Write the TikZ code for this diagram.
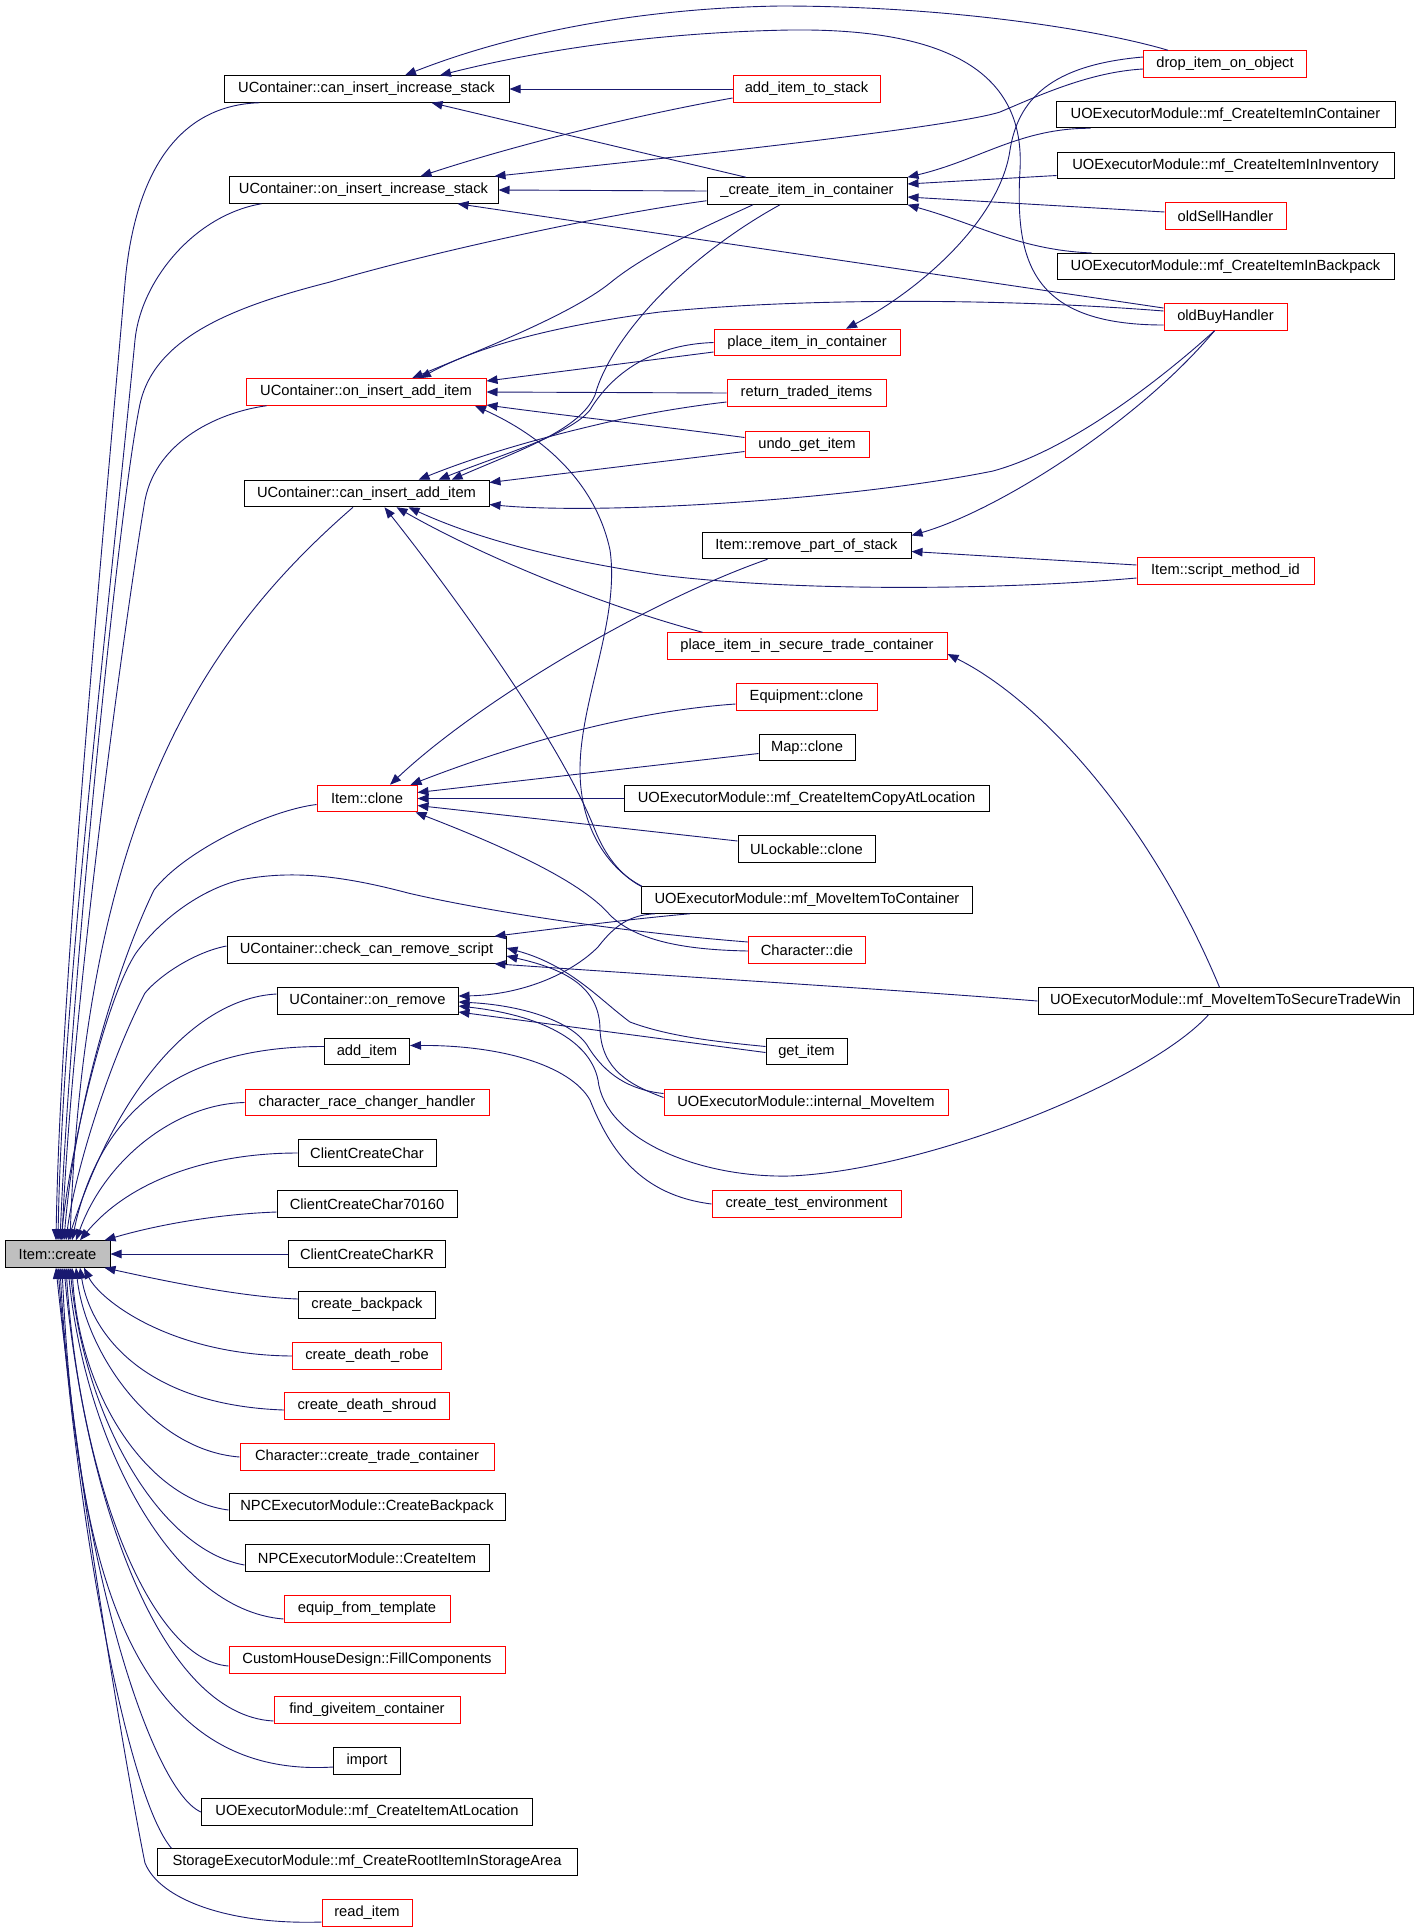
\documentclass[tikz,border=0pt]{standalone}
\usepackage{fontspec}
\setmainfont{Liberation Sans}
\usetikzlibrary{arrows.meta}
\definecolor{navy}{RGB}{25,25,112}
\definecolor{boxgray}{RGB}{191,191,191}
\newcommand\nfont{\fontsize{14.7pt}{17pt}\selectfont}
\begin{document}
\begin{tikzpicture}[x=1pt,y=-1pt,
  nd/.style={draw=black,line width=1pt,fill=white,rectangle,minimum height=26.5pt,inner sep=0pt,font=\nfont},
  rd/.style={nd,draw=red},
  e/.style={draw=navy,line width=0.9pt,{Triangle[length=11pt,width=8.5pt]}-}]
\useasboundingbox[fill=white] (0,0) rectangle (1419,1931);
% column 1
\node[nd,fill=boxgray,minimum width=105pt] (ic) at (57.5,1254) {Item::create};
% column 2
\node[nd,minimum width=285pt] (cis) at (366.5,89) {UContainer::can\_insert\_increase\_stack};
\node[nd,minimum width=269pt] (oiis) at (363.5,190) {UContainer::on\_insert\_increase\_stack};
\node[rd,minimum width=240pt] (oiai) at (366,392) {UContainer::on\_insert\_add\_item};
\node[nd,minimum width=245pt] (ciai) at (366.5,493.5) {UContainer::can\_insert\_add\_item};
\node[rd,minimum width=100pt] (clone) at (367,798.5) {Item::clone};
\node[nd,minimum width=279pt] (ccrs) at (366.5,950) {UContainer::check\_can\_remove\_script};
\node[nd,minimum width=181pt] (orem) at (367.5,1001) {UContainer::on\_remove};
\node[nd,minimum width=85pt] (additem) at (367,1051.5) {add\_item};
\node[rd,minimum width=244pt] (crch) at (367,1102.5) {character\_race\_changer\_handler};
\node[nd,minimum width=138pt] (ccc) at (367,1153) {ClientCreateChar};
\node[nd,minimum width=180pt] (cc7) at (367,1204) {ClientCreateChar70160};
\node[nd,minimum width=157pt] (cckr) at (367,1254) {ClientCreateCharKR};
\node[nd,minimum width=137pt] (cbp) at (367,1305) {create\_backpack};
\node[rd,minimum width=149pt] (cdr) at (367,1356) {create\_death\_robe};
\node[rd,minimum width=165pt] (cds) at (367,1406) {create\_death\_shroud};
\node[rd,minimum width=254pt] (ctc) at (367,1457) {Character::create\_trade\_container};
\node[nd,minimum width=276pt] (npcbp) at (367,1507) {NPCExecutorModule::CreateBackpack};
\node[nd,minimum width=244pt] (npcci) at (367,1558) {NPCExecutorModule::CreateItem};
\node[rd,minimum width=166pt] (eft) at (367,1609) {equip\_from\_template};
\node[rd,minimum width=276pt] (fillc) at (367,1660) {CustomHouseDesign::FillComponents};
\node[rd,minimum width=186pt] (fgc) at (367,1710) {find\_giveitem\_container};
\node[nd,minimum width=67pt] (imp) at (367,1761) {import};
\node[nd,minimum width=331pt] (ciaL) at (367,1812) {UOExecutorModule::mf\_CreateItemAtLocation};
\node[nd,minimum width=420pt] (stor) at (367,1862) {StorageExecutorModule::mf\_CreateRootItemInStorageArea};
\node[rd,minimum width=90pt] (ri) at (367,1913) {read\_item};
% column 3
\node[rd,minimum width=147pt] (aits) at (806.5,89) {add\_item\_to\_stack};
\node[nd,minimum width=200pt] (cic) at (807,191) {\_create\_item\_in\_container};
\node[rd,minimum width=186pt] (pic) at (807,342.5) {place\_item\_in\_container};
\node[rd,minimum width=159pt] (rti) at (806.5,393) {return\_traded\_items};
\node[rd,minimum width=124pt] (ugi) at (807,444.5) {undo\_get\_item};
\node[nd,minimum width=209pt] (rps) at (806.5,545.5) {Item::remove\_part\_of\_stack};
\node[rd,minimum width=280pt] (pis) at (807,646) {place\_item\_in\_secure\_trade\_container};
\node[rd,minimum width=141pt] (eqc) at (806.5,697) {Equipment::clone};
\node[nd,minimum width=96pt] (mapc) at (807,747.5) {Map::clone};
\node[nd,minimum width=365pt] (copyl) at (806.5,798.5) {UOExecutorModule::mf\_CreateItemCopyAtLocation};
\node[nd,minimum width=137pt] (ulc) at (806.5,849) {ULockable::clone};
\node[nd,minimum width=331pt] (mitc) at (807,900) {UOExecutorModule::mf\_MoveItemToContainer};
\node[rd,minimum width=117pt] (die) at (807,950) {Character::die};
\node[nd,minimum width=81pt] (getit) at (806.5,1051.5) {get\_item};
\node[rd,minimum width=284pt] (imi) at (806,1102.5) {UOExecutorModule::internal\_MoveItem};
\node[rd,minimum width=189pt] (cte) at (806.5,1204) {create\_test\_environment};
% column 4
\node[rd,minimum width=163pt] (dio) at (1225,64) {drop\_item\_on\_object};
\node[nd,minimum width=339pt] (cii1) at (1225.5,114.5) {UOExecutorModule::mf\_CreateItemInContainer};
\node[nd,minimum width=337pt] (cii2) at (1225.5,165.5) {UOExecutorModule::mf\_CreateItemInInventory};
\node[rd,minimum width=121pt] (osh) at (1225.5,216) {oldSellHandler};
\node[nd,minimum width=337pt] (cii3) at (1225.5,266.7) {UOExecutorModule::mf\_CreateItemInBackpack};
\node[rd,minimum width=123pt] (obh) at (1225.5,317) {oldBuyHandler};
\node[rd,minimum width=177pt] (smi) at (1225.5,571) {Item::script\_method\_id};
\node[nd,minimum width=375pt] (mst) at (1225.5,1001) {UOExecutorModule::mf\_MoveItemToSecureTradeWin};

% ---- fan into Item::create (top)
\draw[e] ([xshift=-1.5pt]ic.north) .. controls (60,1000) and (99,583) .. (125,283) .. controls (135,170) and (180,105) .. ([xshift=36pt]cis.south west);
\draw[e] ([xshift=0.5pt]ic.north) .. controls (62,1000) and (108,620) .. (135,340) .. controls (141,280) and (195,215) .. ([xshift=33pt]oiis.south west);
\draw[e] ([xshift=2.5pt]ic.north) .. controls (70,1000) and (118,510) .. (140,404) .. controls (155,335) and (240,305) .. (330,282) .. controls (420,255) and (600,215) .. ([yshift=4pt]cic.south west);
\draw[e] ([xshift=4.5pt]ic.north) .. controls (72,1000) and (128,600) .. (145,500) .. controls (157,440) and (220,412) .. ([xshift=21pt]oiai.south west);
\draw[e] ([xshift=12.5pt]ic.north) .. controls (85,820) and (200,640) .. ([xshift=-13.5pt]ciai.south);
\draw[e] ([xshift=6.5pt]ic.north) .. controls (75,1100) and (120,960) .. (154,890) .. controls (185,850) and (270,810) .. ([yshift=-6pt]clone.west);
\draw[e] ([xshift=3.5pt]ic.north) .. controls (70,1150) and (105,1000) .. (136,953) .. controls (160,920) and (200,890) .. (240,880) .. controls (290,870) and (340,875) .. (408,893) .. controls (480,910) and (620,932) .. ([yshift=8pt]die.west);
\draw[e] ([xshift=8.5pt]ic.north) .. controls (75,1170) and (110,1060) .. (145,993) .. controls (160,975) and (195,952) .. ([yshift=4pt]ccrs.west);
\draw[e] ([xshift=10.5pt]ic.north) .. controls (120,1080) and (200,998) .. ([yshift=7pt]orem.west);
\draw[e] ([xshift=14.5pt]ic.north) .. controls (95,1130) and (160,1046) .. ([yshift=5pt]additem.west);
\draw[e] ([xshift=18.5pt]ic.north) .. controls (105,1160) and (175,1104) .. (crch.west);
\draw[e] ([xshift=22.5pt]ic.north) .. controls (130,1180) and (210,1153) .. (ccc.west);
\draw[e] ([xshift=-6pt]ic.north east) .. controls (160,1224) and (220,1214) .. ([yshift=-8pt]cc7.west);
\draw[e] (ic.east) -- (cckr.west);
% ---- fan into Item::create (bottom)
\draw[e] ([xshift=-6pt]ic.south east) .. controls (160,1280) and (240,1297) .. ([yshift=6pt]cbp.west);
\draw[e] ([xshift=26.5pt]ic.south) .. controls (100,1300) and (170,1355) .. (cdr.west);
\draw[e] ([xshift=22.5pt]ic.south) .. controls (90,1330) and (140,1405) .. ([yshift=-4pt]cds.west);
\draw[e] ([xshift=18.5pt]ic.south) .. controls (85,1350) and (150,1450) .. (ctc.west);
\draw[e] ([xshift=14.5pt]ic.south) .. controls (80,1400) and (150,1500) .. ([yshift=-3pt]npcbp.west);
\draw[e] ([xshift=12.5pt]ic.south) .. controls (85,1420) and (160,1550) .. ([yshift=-7pt]npcci.west);
\draw[e] ([xshift=10.5pt]ic.south) .. controls (85,1440) and (170,1610) .. ([yshift=-10pt]eft.west);
\draw[e] ([xshift=8.5pt]ic.south) .. controls (80,1480) and (150,1660) .. ([yshift=-6pt]fillc.west);
\draw[e] ([xshift=6.5pt]ic.south) .. controls (85,1500) and (160,1715) .. ([yshift=-11pt]fgc.west);
\draw[e] ([xshift=4.5pt]ic.south) .. controls (75,1550) and (125,1780) .. ([yshift=-6pt]imp.west);
\draw[e] ([xshift=2.5pt]ic.south) .. controls (75,1550) and (150,1790) .. (ciaL.west);
\draw[e] ([xshift=0.5pt]ic.south) .. controls (80,1550) and (130,1800) .. ([xshift=15pt]stor.north west);
\draw[e] ([xshift=-1.5pt]ic.south) .. controls (80,1500) and (130,1790) .. (145,1863) .. controls (160,1900) and (230,1925) .. ([yshift=-9pt]ri.west);

% ---- into can_insert_increase_stack
\draw[e] ([xshift=38.5pt]cis.north) .. controls (520,30) and (650,8) .. (780,6) .. controls (950,6) and (1100,30) .. ([xshift=-57pt]dio.north);
\draw[e] ([xshift=73.5pt]cis.north) .. controls (560,45) and (680,32) .. (790,30) .. controls (960,28) and (1025,80) .. (1020,170) .. controls (1015,260) and (1030,325) .. ([yshift=-8pt]obh.west);
\draw[e] (cis.east) -- (aits.west);
\draw[e] ([xshift=65pt]cis.south) -- ([xshift=-61pt]cic.north);
% ---- into on_insert_increase_stack
\draw[e] ([xshift=57pt]oiis.north) .. controls (500,150) and (620,118) .. ([yshift=-9pt]aits.west);
\draw[e] ([xshift=-4pt]oiis.north east) .. controls (650,160) and (950,128) .. (1000,112) .. controls (1040,95) and (1090,72) .. ([yshift=-5pt]dio.west);
\draw[e] (oiis.east) -- (cic.west);
\draw[e] ([xshift=94pt]oiis.south) -- ([yshift=9pt]obh.west);
% ---- into _create_item_in_container
\draw[e] (cic.north east) .. controls (980,160) and (1020,128) .. ([xshift=35pt]cii1.south west);
\draw[e] ([yshift=7pt]cic.east) -- ([yshift=-10pt]cii2.west);
\draw[e] ([yshift=-6pt]cic.east) -- ([yshift=4pt]osh.west);
\draw[e] (cic.south east) .. controls (980,225) and (1020,250) .. ([xshift=35pt]cii3.north west);
% ---- into place_item_in_container
\draw[e] ([xshift=39pt]pic.north) .. controls (920,290) and (1000,220) .. (1010,150) .. controls (1018,100) and (1050,65) .. ([yshift=7pt]dio.west);
% ---- into on_insert_add_item
\draw[e] ([xshift=46pt]oiai.north) .. controls (480,350) and (570,315) .. (610,283) .. controls (650,250) and (720,220) .. ([xshift=-54pt]cic.south);
\draw[e] ([xshift=54pt]oiai.north) .. controls (480,345) and (560,325) .. (660,312) .. controls (800,298) and (1000,298) .. ([yshift=6pt]obh.west);
\draw[e] ([yshift=11pt]oiai.east) -- ([yshift=-9.5pt]pic.west);
\draw[e] (oiai.east) -- (rti.west);
\draw[e] ([yshift=-13pt]oiai.east) .. controls (560,415) and (650,425) .. ([yshift=7pt]ugi.west);
\draw[e] ([xshift=109pt]oiai.south) .. controls (540,435) and (595,480) .. (610,550) .. controls (620,620) and (580,700) .. (580,770) .. controls (580,830) and (610,870) .. ([xshift=1pt]mitc.north west);
% ---- into can_insert_add_item
\draw[e] ([xshift=85pt]ciai.north) .. controls (520,450) and (580,430) .. (595,395) .. controls (610,340) and (680,260) .. ([xshift=-27pt]cic.south);
\draw[e] ([xshift=72pt]ciai.north) .. controls (500,455) and (570,435) .. (590,410) .. controls (605,385) and (640,345) .. (pic.west);
\draw[e] ([xshift=52pt]ciai.north) .. controls (480,455) and (540,438) .. (600,424) .. controls (650,412) and (700,405) .. ([yshift=-9pt]rti.west);
\draw[e] ([yshift=11pt]ciai.east) -- ([yshift=-7pt]ugi.west);
\draw[e] ([yshift=-11pt]ciai.east) .. controls (600,515) and (850,500) .. (993,471) .. controls (1070,450) and (1160,380) .. ([xshift=-11pt]obh.south);
\draw[e] ([xshift=18pt]ciai.south) .. controls (450,590) and (560,740) .. (595,830) .. controls (605,855) and (620,875) .. (mitc.north west);
\draw[e] ([xshift=30pt]ciai.south) .. controls (480,555) and (600,605) .. ([xshift=36pt]pis.north west);
\draw[e] ([xshift=42pt]ciai.south) .. controls (480,540) and (560,560) .. (660,575) .. controls (800,592) and (1000,590) .. ([yshift=-7pt]smi.west);
% ---- into remove_part_of_stack
\draw[e] ([yshift=10pt]rps.east) .. controls (1000,510) and (1140,420) .. ([xshift=-11pt]obh.south);
\draw[e] ([yshift=-6pt]rps.east) -- ([yshift=6pt]smi.west);
% ---- into Item::clone
\draw[e] ([xshift=23pt]clone.north) .. controls (480,700) and (650,600) .. ([xshift=-39pt]rps.south);
\draw[e] ([xshift=-7pt]clone.north east) .. controls (500,750) and (620,712) .. ([yshift=-7pt]eqc.west);
\draw[e] ([yshift=6pt]clone.east) -- ([yshift=-6pt]mapc.west);
\draw[e] (clone.east) -- (copyl.west);
\draw[e] ([yshift=-7pt]clone.east) -- ([yshift=8pt]ulc.west);
\draw[e] ([xshift=-2pt]clone.south east) .. controls (500,845) and (580,880) .. (610,915) .. controls (640,945) and (700,950) .. ([yshift=-1pt]die.west);
% ---- into check_can_remove_script
\draw[e] ([xshift=-12pt]ccrs.north east) .. controls (560,928) and (640,918) .. ([xshift=49pt]mitc.south west);
\draw[e] ([yshift=2pt]ccrs.east) .. controls (570,965) and (600,1000) .. (630,1022) .. controls (670,1037) and (720,1042) .. ([yshift=5pt]getit.west);
\draw[e] ([yshift=-6pt]ccrs.east) .. controls (570,970) and (600,990) .. (600,1030) .. controls (602,1070) and (630,1085) .. ([yshift=5pt]imi.west);
\draw[e] ([xshift=-12pt]ccrs.south east) .. controls (700,978) and (900,990) .. (mst.west);
% ---- into on_remove
\draw[e] ([yshift=5pt]orem.east) .. controls (520,995) and (570,975) .. (598,947) .. controls (615,925) and (630,915) .. ([xshift=14pt]mitc.south west);
\draw[e] ([yshift=-11pt]orem.east) -- ([yshift=-1pt]getit.west);
\draw[e] ([yshift=-1pt]orem.east) .. controls (520,1005) and (570,1020) .. (587,1045) .. controls (605,1075) and (630,1090) .. ([yshift=9pt]imi.west);
\draw[e] ([yshift=-5pt]orem.east) .. controls (540,1015) and (590,1040) .. (598,1080) .. controls (605,1140) and (700,1178) .. (790,1176) .. controls (930,1170) and (1150,1080) .. ([xshift=-17pt]mst.south);
% ---- into add_item
\draw[e] ([yshift=6pt]additem.east) .. controls (500,1045) and (570,1065) .. (590,1100) .. controls (610,1150) and (640,1195) .. (cte.west);
% ---- into place_item_in_secure_trade_container
\draw[e] ([yshift=-8pt]pis.east) .. controls (1040,700) and (1150,820) .. ([xshift=-6pt]mst.north);
\end{tikzpicture}
\end{document}
